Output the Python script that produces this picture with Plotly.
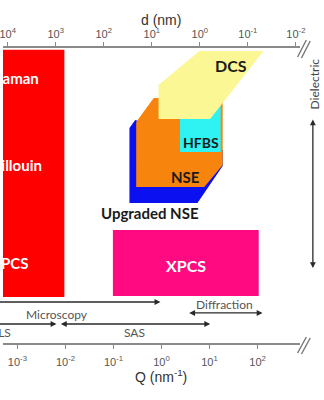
import numpy as np
import plotly.graph_objects as go

# ---------------- data (Q in nm^-1, d in nm, tau in s) ----------------
q_ticks = [1e-3, 1e-2, 1e-1, 1e0, 1e1, 1e2]
q_ticktext = ["10<sup>-3</sup>", "10<sup>-2</sup>", "10<sup>-1</sup>",
              "10<sup>0</sup>", "10<sup>1</sup>", "10<sup>2</sup>"]
d_ticks = [1e4, 1e3, 1e2, 1e1, 1e0, 1e-1, 1e-2]
d_ticktext = ["10<sup>4</sup>", "10<sup>3</sup>", "10<sup>2</sup>", "10<sup>1</sup>",
              "10<sup>0</sup>", "10<sup>-1</sup>", "10<sup>-2</sup>"]

# technique regions (polygon vertices)
ls_q = [1e-5, 0.0095, 0.0095, 1e-5]
ls_t = [1.3e-14, 1.3e-14, 15.6, 15.6]
xpcs_q = [0.0973, 105.7, 105.7, 0.0973]
xpcs_t = [1.27e-3, 1.27e-3, 13.5, 13.5]
unse_q = [0.284, 0.215, 0.215, 5.61, 18.8, 18.8]
unse_t = [2.47e-10, 7.6e-10, 2.86e-5, 2.86e-5, 1.58e-7, 1.67e-8]
nse_q = [0.297, 0.689, 18.8, 18.8, 7.78, 0.297]
nse_t = [3.27e-10, 1.12e-11, 1.12e-11, 1.38e-7, 3.0e-6, 3.0e-6]
hfbs_q = [2.42, 17.1, 17.1, 2.42]
hfbs_t = [3.0e-11, 3.0e-11, 2.2e-8, 2.2e-8]
dcs_q = [6.15, 133.0, 10.3, 0.869, 0.869]
dcs_t = [1.5e-14, 1.5e-14, 2.15e-10, 2.15e-10, 1.8e-12]

# region labels
lab_text = ["Raman", "Brillouin", "PCS", "DCS", "HFBS", "NSE", "Upgraded NSE", "XPCS"]
lab_q = [9.4e-4, 8.57e-4, 8.77e-4, 28.6, 6.76, 3.2, 0.571, 3.2]
lab_t = [6.76e-13, 1.38e-7, 0.131, 1.09e-13, 6.25e-9, 7.43e-7, 1.17e-4, 0.2]
lab_color = ["white", "white", "white", "#1a1a1a", "#1a1a1a", "#1a1a1a", "#1a1a1a", "white"]
lab_size = [15, 15, 15, 16, 14, 15, 15, 16]

# structural-range arrows
rng_text = ["Microscopy", "Diffraction", "DLS", "SAS"]
rng_text_q = [0.00682, 20.7, 8.0e-4, 0.271]
rng_text_t = [170.0, 41.7, 2450.0, 2450.0]
rng_xanchor = ["center", "center", "right", "center"]
arr_q0 = [1e-4, 3.52, 1e-4, 0.00748]
arr_q1 = [0.95, 127.0, 0.0065, 10.3]
arr_t = [31.4, 147.0, 692.0, 692.0]
arr_side = ["end", "end+start", "end", "end+start"]

# dielectric time range
diel_t = [1.86e-10, 0.265]
diel_label_t = 1.58e-12

# ---------------- figure ----------------
fig = go.Figure()

def region(q, t, color):
    fig.add_trace(go.Scatter(x=q, y=t, mode="lines", fill="toself",
                             fillcolor=color, line=dict(width=0),
                             hoverinfo="skip", showlegend=False))

region(ls_q, ls_t, "#ff0000")
region(xpcs_q, xpcs_t, "#ff0a80")
region(unse_q, unse_t, "#0a10f0")
region(nse_q, nse_t, "#f7840c")
region(hfbs_q, hfbs_t, "#2ff2f2")
region(dcs_q, dcs_t, "#fbf794")

# dummy trace so the top d axis is drawn
fig.add_trace(go.Scatter(x=[d_ticks[0], d_ticks[-1]], y=[None, None], xaxis="x2",
                         mode="none", hoverinfo="skip", showlegend=False))

ann = []
for s, q, t, c, fs in zip(lab_text, lab_q, lab_t, lab_color, lab_size):
    ann.append(dict(x=np.log10(q), y=np.log10(t), xref="x", yref="y", text="<b>%s</b>" % s,
                    showarrow=False, xanchor="center", yanchor="middle",
                    font=dict(family="Lato", size=fs, color=c)))

for s, q, t, xa in zip(rng_text, rng_text_q, rng_text_t, rng_xanchor):
    ann.append(dict(x=np.log10(q), y=np.log10(t), xref="x", yref="y", text=s,
                    showarrow=False, xanchor=xa, yanchor="middle",
                    font=dict(family="Lato", size=12, color="#555555")))

for q0, q1, t, side in zip(arr_q0, arr_q1, arr_t, arr_side):
    ann.append(dict(x=np.log10(q1), y=np.log10(t), ax=np.log10(q0), ay=np.log10(t),
                    xref="x", yref="y", axref="x", ayref="y", text="",
                    showarrow=True, arrowhead=2, arrowsize=0.9, arrowwidth=1.3,
                    arrowcolor="#2a2a2a", arrowside=side, standoff=0, startstandoff=0))

ann.append(dict(x=1.045, ax=1.045, y=np.log10(diel_t[1]), ay=np.log10(diel_t[0]),
                xref="x domain", axref="x domain", yref="y", ayref="y", text="",
                showarrow=True, arrowhead=2, arrowsize=0.9, arrowwidth=1.3,
                arrowcolor="#2a2a2a", arrowside="end+start"))
ann.append(dict(x=1.05, y=np.log10(diel_label_t), xref="x domain", yref="y",
                text="Dielectric", textangle=-90, showarrow=False,
                xanchor="center", yanchor="middle",
                font=dict(family="Lato", size=12, color="#444444")))

ann.append(dict(x=0.5, y=1.095, xref="paper", yref="paper", text="d (nm)", showarrow=False,
                xanchor="center", yanchor="middle",
                font=dict(family="Liberation Sans, Arial", size=14, color="#333333")))
ann.append(dict(x=0.503, y=-0.112, xref="paper", yref="paper", text="Q (nm<sup>-1</sup>)",
                showarrow=False, xanchor="center", yanchor="middle",
                font=dict(family="Liberation Sans, Arial", size=14, color="#333333")))

# axis break marks "//"
shapes = []
W, top_px, bot_px = 324.0, 48.0, 343.0
def px(xp, yp):
    return xp / W, (bot_px - yp) / (bot_px - top_px)
for (x0, y0, x1, y1) in [(303, 57, 312, 40), (307, 58, 316, 41),
                         (303, 353, 312, 337), (307, 354, 316, 338)]:
    a, b = px(x0, y0)
    c, d = px(x1, y1)
    shapes.append(dict(type="line", xref="paper", yref="paper", x0=a, y0=b, x1=c, y1=d,
                       line=dict(color="#777777", width=1.4)))

axis_common = dict(showgrid=False, zeroline=False, showline=True, linecolor="#8a8a8a",
                   linewidth=1.6, ticks="outside", ticklen=4, tickwidth=1.4,
                   tickcolor="#8a8a8a", ticklabeloverflow="allow",
                   tickfont=dict(family="Liberation Sans, Arial", size=11, color="#555555"))

fig.update_layout(
    width=324, height=400,
    margin=dict(l=0, r=0, t=48, b=57, pad=0),
    paper_bgcolor="white", plot_bgcolor="white",
    xaxis=dict(type="log", range=[-3.3, 2.874], domain=[0, 305 / 324],
               tickvals=q_ticks, ticktext=q_ticktext, ticklabelstandoff=4, **axis_common),
    xaxis2=dict(type="log", range=[4.098, -2.076], domain=[0, 305 / 324],
                overlaying="x", side="top", anchor="y",
                tickvals=d_ticks, ticktext=d_ticktext, **axis_common),
    yaxis=dict(type="log", range=[4, -14], visible=False, showgrid=False, zeroline=False),
    annotations=ann, shapes=shapes, showlegend=False,
)

fig.write_html("out.html")
